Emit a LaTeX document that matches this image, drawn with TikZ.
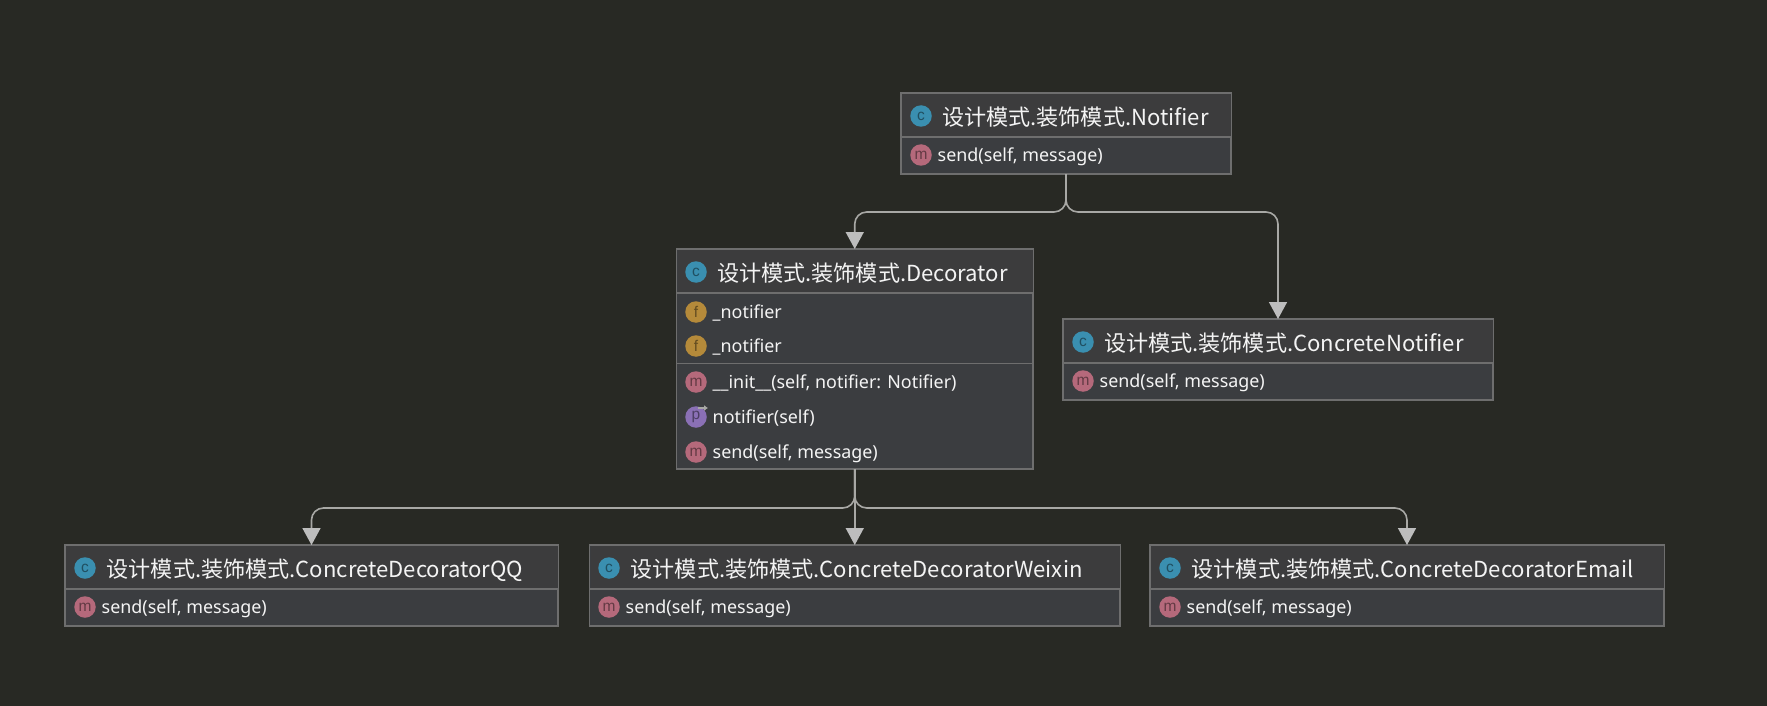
\documentclass[tikz,border=0pt]{standalone}
\usepackage{fontspec}
\setmainfont{Noto Sans}
\newfontfamily\cjkf{Noto Sans CJK SC}
\newfontfamily\iconf{Liberation Sans}
\usetikzlibrary{arrows.meta,calc}
\definecolor{bgc}{HTML}{282924}
\definecolor{boxc}{HTML}{3B3D40}
\definecolor{headc}{HTML}{3C3C3D}
\definecolor{edgec}{HTML}{6E6E6E}
\definecolor{linec}{HTML}{A8A8A5}
\definecolor{tipc}{HTML}{BDBDBD}
\definecolor{txtc}{HTML}{F4F4F4}
\definecolor{icc}{HTML}{3A8FB0}
\definecolor{icm}{HTML}{B5697B}
\definecolor{icf}{HTML}{B58A3A}
\definecolor{icp}{HTML}{8A70B5}
\tikzset{
  x=1pt,y=-1pt,
  umlbox/.style={draw=edgec,line width=1.2pt,fill=boxc,inner sep=0pt,outer sep=0pt},
  headfill/.style={fill=headc},
  divider/.style={draw=edgec,line width=1.8pt},
  thindiv/.style={draw=edgec,line width=1pt},
  conn/.style={draw=linec,line width=1.6pt,rounded corners=12pt,-{Triangle[length=17pt,width=18pt,fill=tipc,color=tipc]}},
  icon/.style={circle,inner sep=0pt,minimum size=21.5pt,text=#1!55!black,font=\iconf\fontsize{15.5}{15.5}\selectfont},
  iconc/.style={icon=icc,fill=icc},
  iconm/.style={icon=icm,fill=icm},
  iconf/.style={icon=icf,fill=icf},
  iconp/.style={icon=icp,fill=icp},
  titletxt/.style={anchor=base west,inner sep=0pt,text=txtc,font=\cjkf\fontsize{22.1}{22.1}\selectfont},
  rowtxt/.style={anchor=base west,inner sep=0pt,text=txtc,font=\fontsize{17.9}{17.9}\selectfont},
}
\newcommand{\umlhead}[5]{% name, icon x, icon y, text x, text
  \node[iconc] (#1i) at (#2,#3) {c};
  \node[titletxt] (#1t) at (#4,#3+9.5) {#5};
}
\newcommand{\umlrow}[6]{% name, style, letter, icon x, y, text
  \node[#2] (#1i) at (#4,#5) {#3};
  \node[rowtxt] (#1t) at (#4+16.5,#5+6) {#6};
}
\begin{document}
\begin{tikzpicture}
\useasboundingbox (0,0) rectangle (1767,706);
\fill[bgc] (0,0) rectangle (1767,706);

% boxes
\node[umlbox,minimum width=330pt,minimum height=81pt] (notifier) at (1066,133.5) {};
\node[umlbox,minimum width=356.5pt,minimum height=220pt] (decorator) at (854.75,359) {};
\node[umlbox,minimum width=430pt,minimum height=81pt] (cnotifier) at (1278,359.5) {};
\node[umlbox,minimum width=493pt,minimum height=81pt] (qq) at (311.5,585.5) {};
\node[umlbox,minimum width=530.5pt,minimum height=81pt] (weixin) at (854.75,585.5) {};
\node[umlbox,minimum width=514pt,minimum height=81pt] (email) at (1407,585.5) {};

% header fills
\fill[headfill] ($(notifier.north west)+(1,1)$) rectangle (notifier.east |- 0,137);
\fill[headfill] ($(decorator.north west)+(1,1)$) rectangle (decorator.east |- 0,293);
\fill[headfill] ($(cnotifier.north west)+(1,1)$) rectangle (cnotifier.east |- 0,363);
\fill[headfill] ($(qq.north west)+(1,1)$) rectangle (qq.east |- 0,589);
\fill[headfill] ($(weixin.north west)+(1,1)$) rectangle (weixin.east |- 0,589);
\fill[headfill] ($(email.north west)+(1,1)$) rectangle (email.east |- 0,589);

% dividers
\draw[divider] (notifier.west |- 0,137) -- (notifier.east |- 0,137);
\draw[divider] (decorator.west |- 0,293) -- (decorator.east |- 0,293);
\draw[thindiv] (decorator.west |- 0,363.5) -- (decorator.east |- 0,363.5);
\draw[divider] (cnotifier.west |- 0,363) -- (cnotifier.east |- 0,363);
\draw[divider] (qq.west |- 0,589) -- (qq.east |- 0,589);
\draw[divider] (weixin.west |- 0,589) -- (weixin.east |- 0,589);
\draw[divider] (email.west |- 0,589) -- (email.east |- 0,589);

% connectors
\draw[conn] (notifier.south) |- ($(decorator.north)+(0,-37)$) -- (decorator.north);
\draw[conn] (notifier.south) |- ($(cnotifier.north)+(0,-107)$) -- (cnotifier.north);
\draw[conn] (decorator.south) |- ($(qq.north)+(0,-37)$) -- (qq.north);
\draw[conn] (decorator.south) -- (weixin.north);
\draw[conn] (decorator.south) |- ($(email.north)+(0,-37)$) -- (email.north);

% titles
\umlhead{nh}{921}{116}{942}{设计模式.装饰模式.Notifier}
\umlhead{dh}{696}{272}{717}{设计模式.装饰模式.Decorator}
\umlhead{ch}{1083}{342}{1104}{设计模式.装饰模式.ConcreteNotifier}
\umlhead{qh}{85}{568}{106.5}{设计模式.装饰模式.ConcreteDecoratorQQ}
\umlhead{wh}{609}{568}{630.5}{设计模式.装饰模式.ConcreteDecoratorWeixin}
\umlhead{eh}{1170}{568}{1191.5}{设计模式.装饰模式.ConcreteDecoratorEmail}

% rows
\umlrow{nr}{iconm}{m}{921}{155}{send(self, message)}
\umlrow{df}{iconf}{f}{696}{312}{\_notifier}
\umlrow{dg}{iconf}{f}{696}{346}{\_notifier}
\umlrow{di}{iconm}{m}{696}{382}{\_\_init\_\_(self, notifier: Notifier)}
\umlrow{dp}{iconp}{p}{696}{417}{notifier(self)}
\umlrow{ds}{iconm}{m}{696}{452}{send(self, message)}
\umlrow{cr}{iconm}{m}{1083}{381}{send(self, message)}
\umlrow{qr}{iconm}{m}{85}{607}{send(self, message)}
\umlrow{wr}{iconm}{m}{609}{607}{send(self, message)}
\umlrow{er}{iconm}{m}{1170}{607}{send(self, message)}

% property marker
\draw[-{Latex[length=4pt,width=6pt]},draw=linec,line width=1.4pt] ($(dpi.center)+(2,-9)$) -- ($(dpi.center)+(12,-9)$);
\end{tikzpicture}
\end{document}
